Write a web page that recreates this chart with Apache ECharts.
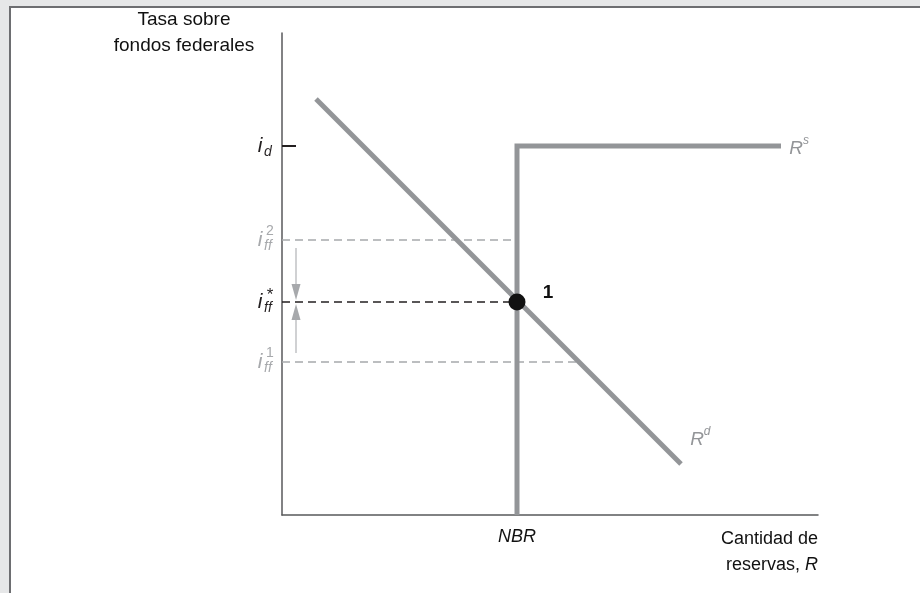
<!DOCTYPE html>
<html><head><meta charset="utf-8">
<script src="https://cdn.jsdelivr.net/npm/echarts@6/dist/echarts.min.js"></script>
<style>html,body{margin:0;padding:0;background:#e6e7e8;}#c{width:920px;height:593px;}</style>
</head><body><div id="c"></div>
<script>
// ---- data (axis units: reserves on x, rate on y) ----
const xMax = 536, yMax = 482;
const demandCurve = [[34, 416], [399, 51]];          // R^d
const supplyCurve = [[235, 0], [235, 369], [499, 369]]; // R^s
const NBR = 235;
const rateD = 369;      // i_d
const rateHigh = 275;   // i_ff^2
const rateEq = 213;     // i_ff*
const rateLow = 153;    // i_ff^1
const lowEnd = 297;     // where i_ff^1 meets R^d
const arrowDown = [[14, 267], [14, 223]];
const arrowUp = [[14, 162], [14, 203]];
const tickLabels = [
  {v: rateD, sub: 'd', sup: '', color: '#231f20'},
  {v: rateHigh, sub: 'ff', sup: '2', color: '#a7a9ac'},
  {v: rateEq, sub: 'ff', sup: '*', color: '#231f20'},
  {v: rateLow, sub: 'ff', sup: '1', color: '#a7a9ac'}
];

const FONT = '"Liberation Sans", Arial, Helvetica, sans-serif';
const curveColor = '#939598';
const axisColor = '#58595b';
const txt = '#231f20';

function lbl(text, color, size, off, extra) {
  return Object.assign({show: true, position: 'inside', formatter: text, color: color, fontSize: size, opacity: 1,
    fontFamily: FONT, fontStyle: 'italic', offset: off, align: 'center', verticalAlign: 'middle'}, extra || {});
}

const tickData = [];
tickLabels.forEach(t => {
  tickData.push({value: [0, t.v], label: lbl('i', t.color, 21, [-22, 0])});
  tickData.push({value: [0, t.v], label: lbl(t.sub, t.color, 14, [-14, 6])});
  if (t.sup) tickData.push({value: [0, t.v], label: lbl(t.sup, t.color, t.sup === '*' ? 17 : 14, [-12, t.sup === '*' ? -7 : -9], {fontStyle: 'normal'})});
});

const chart = echarts.init(document.getElementById('c'));
chart.setOption({
  animation: false,
  backgroundColor: '#e6e7e8',
  graphic: [{type: 'rect', z: -10, shape: {x: 10, y: 7, width: 940, height: 620},
    style: {fill: '#ffffff', stroke: '#6d6e71', lineWidth: 2}}],
  grid: {left: 282, top: 33, width: xMax, height: yMax, containLabel: false},
  xAxis: {type: 'value', min: 0, max: xMax, axisLine: {lineStyle: {color: axisColor, width: 1.5}},
    axisTick: {show: false}, axisLabel: {show: false}, splitLine: {show: false}},
  yAxis: {type: 'value', min: 0, max: yMax, axisLine: {show: true, lineStyle: {color: axisColor, width: 1.5}},
    axisTick: {show: false}, axisLabel: {show: false}, splitLine: {show: false}},
  series: [
    {type: 'line', data: [[0, rateHigh], [NBR, rateHigh]], symbol: 'none', lineStyle: {color: '#a7a9ac', width: 1.3, type: [8, 5]}},
    {type: 'line', data: [[0, rateEq], [NBR, rateEq]], symbol: 'none', lineStyle: {color: txt, width: 1.5, type: [8, 5]}},
    {type: 'line', data: [[0, rateLow], [lowEnd, rateLow]], symbol: 'none', lineStyle: {color: '#a7a9ac', width: 1.3, type: [8, 5]}},
    {type: 'line', data: [[0, rateD], [14, rateD]], symbol: 'none', lineStyle: {color: txt, width: 2}},
    {type: 'line', data: supplyCurve, symbol: 'none', lineStyle: {color: curveColor, width: 5, cap: 'butt', join: 'miter'}},
    {type: 'line', data: demandCurve, symbol: 'none', lineStyle: {color: curveColor, width: 5, cap: 'butt'}},
    {type: 'line', data: [{value: arrowDown[0], symbol: 'none'}, {value: arrowDown[1], symbol: 'triangle', symbolSize: [9, 16], symbolRotate: 180}],
      showSymbol: true, lineStyle: {color: '#b1b3b6', width: 1.2}, itemStyle: {color: '#a7a9ac'}},
    {type: 'line', data: [{value: arrowUp[0], symbol: 'none'}, {value: arrowUp[1], symbol: 'triangle', symbolSize: [9, 16]}],
      showSymbol: true, lineStyle: {color: '#b1b3b6', width: 1.2}, itemStyle: {color: '#a7a9ac'}},
    {type: 'scatter', data: [[NBR, rateEq]], symbolSize: 17, itemStyle: {color: '#111111', opacity: 1}, z: 5,
      label: {show: true, formatter: '1', position: 'inside', offset: [31, -9], color: '#111', opacity: 1, fontSize: 19, fontWeight: 'bold', fontFamily: FONT}},
    {type: 'scatter', symbolSize: 0, itemStyle: {opacity: 1}, data: tickData, z: 6},
    {type: 'scatter', symbolSize: 0, itemStyle: {opacity: 1}, z: 6, data: [
      {value: supplyCurve[2], label: lbl('R', '#939598', 19, [15, 3])},
      {value: supplyCurve[2], label: lbl('s', '#939598', 12, [25, -5])},
      {value: demandCurve[1], label: lbl('R', '#939598', 19, [16, -24])},
      {value: demandCurve[1], label: lbl('d', '#939598', 12, [26, -32])},
      {value: [NBR, 0], label: lbl('NBR', '#111', 18, [0, 22])},
      {value: [xMax, 0], label: {show: true, position: 'inside', align: 'right', verticalAlign: 'top', offset: [0, 11], opacity: 1,
        formatter: 'Cantidad de\nreservas, {it|R}', color: '#111', fontSize: 18, lineHeight: 26, fontFamily: FONT,
        rich: {it: {fontStyle: 'italic', fontSize: 18, color: '#111', fontFamily: FONT}}}},
      {value: [0, yMax], label: {show: true, position: 'inside', align: 'center', verticalAlign: 'middle', offset: [-98, 0], opacity: 1,
        formatter: 'Tasa sobre\nfondos federales', color: '#111', fontSize: 19, lineHeight: 26, fontFamily: FONT}}
    ]}
  ]
});
</script></body></html>
